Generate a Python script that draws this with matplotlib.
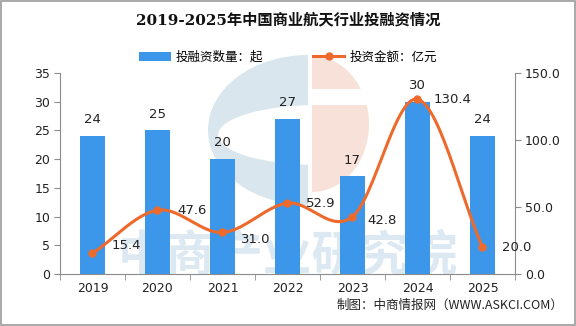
import numpy as np
import matplotlib
matplotlib.use("Agg")
import matplotlib.pyplot as plt
from matplotlib.patches import Wedge, Rectangle, Ellipse, Patch
from matplotlib.lines import Line2D

plt.rcParams['font.family'] = ['DejaVu Sans', 'Noto Sans CJK SC']

years = ["2019", "2020", "2021", "2022", "2023", "2024", "2025"]
deals = [24, 25, 20, 27, 17, 30, 24]
amount = [15.4, 47.6, 31.0, 52.9, 42.8, 130.4, 20.0]

BLUE = "#3c97ea"
ORANGE = "#ee6a2c"
GRAY = "#8c8c8c"


def catmull_rom(xs, ys, n=30):
    # smooth curve through the points, like the spreadsheet "smoothed line"
    px = np.concatenate([[2 * xs[0] - xs[1]], xs, [2 * xs[-1] - xs[-2]]])
    py = np.concatenate([[2 * ys[0] - ys[1]], ys, [2 * ys[-1] - ys[-2]]])
    out_x, out_y = [], []
    t = np.linspace(0, 1, n)
    for i in range(1, len(px) - 2):
        p0, p1, p2, p3 = px[i - 1], px[i], px[i + 1], px[i + 2]
        q0, q1, q2, q3 = py[i - 1], py[i], py[i + 1], py[i + 2]
        for a, b, c, d, out in ((p0, p1, p2, p3, out_x), (q0, q1, q2, q3, out_y)):
            out.extend(0.5 * (2 * b + (-a + c) * t + (2 * a - 5 * b + 4 * c - d) * t ** 2
                              + (-a + 3 * b - 3 * c + d) * t ** 3))
    return np.array(out_x), np.array(out_y)


W, H = 576, 326
fig = plt.figure(figsize=(W / 100, H / 100), dpi=100)
fig.patch.set_facecolor("white")


def px(x, y):
    return (x / W, 1 - y / H)


def add_bg(p):
    p.set_transform(fig.transFigure)
    p.set_zorder(-2)
    fig.patches.append(p)


# faint logo behind the chart
wb = Wedge((0, 0), 1, 90, 270, facecolor="#d9e6ee", edgecolor="none")
wb.set_transform(matplotlib.transforms.Affine2D().scale(100, 75).translate(308, H - 130))
wb.set_zorder(-2)
fig.patches.append(wb)
add_bg(Ellipse(px(318, 135), 200 / W, 60 / H, facecolor="white", edgecolor="none"))
wp = Wedge((0, 0), 1, -90, 90, facecolor="#f8e1d8", edgecolor="none")
wp.set_transform(matplotlib.transforms.Affine2D().scale(57, 68).translate(312, H - 124))
wp.set_zorder(-2)
fig.patches.append(wp)
add_bg(Rectangle(px(312, 105), 60 / W, 16 / H, facecolor="white", edgecolor="none"))
fig.text(0.5, 1 - 257 / H, "中商产业研究院", fontsize=35, color="#dde9f2", ha="center", va="center",
         family=['Noto Sans CJK SC'], fontweight="bold", zorder=-1)
fig.patches.append(Rectangle((0.002, 0.003), 0.996, 0.994, transform=fig.transFigure,
                             fill=False, edgecolor="#9a9a9a", linewidth=1.2, zorder=5))

ax = fig.add_axes([60 / W, 1 - 274 / H, (515 - 60) / W, (274 - 73) / H])
ax.patch.set_alpha(0)
x = np.arange(len(years))
ax.bar(x, deals, width=0.37, color=BLUE, zorder=2)
ax.set_ylim(0, 35)
ax.set_yticks(range(0, 36, 5))
ax.set_xlim(-0.5, len(years) - 0.5)
ax.set_xticks(x)
ax.set_xticklabels(years)
ax.set_xticks(np.arange(-0.5, len(years)), minor=True)
ax.tick_params(axis="x", which="major", length=0, pad=6)
ax.tick_params(axis="x", which="minor", length=4, color=GRAY)
ax.tick_params(axis="y", length=4, color=GRAY, pad=3)
ax.tick_params(labelsize=9, labelcolor="#222222")
for s in ["top", "right"]:
    ax.spines[s].set_visible(False)
for s in ["left", "bottom"]:
    ax.spines[s].set_color(GRAY)

for xi, v in zip(x, deals):
    ax.annotate(str(v), (xi, v), xytext=(0, 7), textcoords="offset points",
                ha="center", va="bottom", fontsize=9.5, color="#222222")

ax2 = ax.twinx()
ax2.patch.set_alpha(0)
ax2.set_ylim(0, 150)
ax2.set_yticks(range(0, 151, 50))
ax2.set_yticklabels([f"{v:.1f}" for v in range(0, 151, 50)])
ax2.tick_params(axis="y", length=4, color=GRAY, labelsize=9, labelcolor="#222222", pad=3)
for s in ["top", "left", "bottom"]:
    ax2.spines[s].set_visible(False)
ax2.spines["right"].set_color(GRAY)

sx, sy = catmull_rom(x.astype(float), np.array(amount))
ax2.plot(sx, sy, color=ORANGE, linewidth=2.2, zorder=3)
ax2.plot(x, amount, "o", color=ORANGE, markersize=5, zorder=4)

offsets = [(14, 6), (14, 0), (13, -5), (13.5, 0), (11, -3), (11.5, 0), (14, 0)]
for xi, v, off in zip(x, amount, offsets):
    ax2.annotate(f"{v:.1f}", (xi, v), xytext=off, textcoords="offset points",
                 ha="left", va="center", fontsize=9.5, color="#222222")

fig.text(0.5, 1 - 20 / H, "2019-2025年中国商业航天行业投融资情况", ha="center", va="center",
         fontsize=11, fontweight="bold", color="#111111", family=['DejaVu Serif', 'Noto Sans CJK SC'])

handles = [Patch(facecolor=BLUE, edgecolor="none"),
           Line2D([0], [0], color=ORANGE, linewidth=2.2, marker="o", markersize=5)]
fig.legend(handles, ["投融资数量：起", "投资金额：亿元"], loc="center",
           bbox_to_anchor=(0.5, 1 - 57 / H), ncol=2, frameon=False,
           handlelength=2.5, columnspacing=4, handletextpad=0.4,
           prop={'family': ['Noto Sans CJK SC'], 'size': 9})

fig.text(563 / W, 1 - 305 / H, "制图：中商情报网（WWW.ASKCI.COM）", ha="right", va="center",
         fontsize=9, color="#222222", family=['Noto Sans CJK SC'])

fig.savefig("out.png", dpi=100)
